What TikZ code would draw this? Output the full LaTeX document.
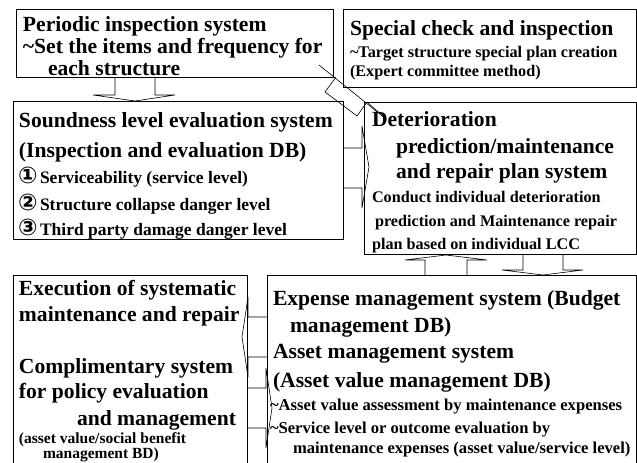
\documentclass[tikz,border=0pt]{standalone}
\usepackage{fontspec}
\setmainfont{Liberation Serif}
\newfontfamily\circfont{DejaVu Sans}
\newcommand\fA{\fontsize{21.6}{24}\selectfont\bfseries}
\newcommand\fB{\fontsize{16.2}{18}\selectfont\bfseries}
\newcommand\fC{\fontsize{17.5}{19}\selectfont\bfseries}
\newcommand\fD{\fontsize{15.5}{17}\selectfont\bfseries}
\newcommand\fE{\fontsize{16.6}{18}\selectfont\bfseries}
\newcommand\circd[1]{\makebox[21pt][l]{\circfont\fontsize{23}{23}\selectfont\kern-1pt #1}}
\tikzset{
  box/.style={draw=black, line width=0.9pt, inner sep=0pt, outer sep=0pt, anchor=north west},
  blk/.style={draw=black, line width=0.6pt, line join=miter},
  txt/.style={anchor=base west, inner sep=0pt, outer sep=0pt},
}
\begin{document}
\begin{tikzpicture}[x=1pt,y=-1pt]
\useasboundingbox (0,0) rectangle (637,463);
\clip (0,0) rectangle (637,463);
% boxes
\node[box, minimum width=317pt, minimum height=68pt] (periodic) at (16,9) {};
\node[box, minimum width=293pt, minimum height=78pt] (special) at (343,9) {};
\node[box, minimum width=330pt, minimum height=138pt] (sound) at (13,101) {};
\node[box, minimum width=272pt, minimum height=152pt] (deter) at (364,102) {};
\node[box, minimum width=234pt, minimum height=195pt] (exec) at (13,275) {};
\node[box, minimum width=369pt, minimum height=195pt] (expense) at (267,275) {};
% periodic text
\node[txt] (p1) at (23,31) {\fA Periodic inspection system};
\node[txt] (p2) at (23,53) {\fA \textasciitilde Set the items and frequency for};
\node[txt] (p3) at (48,75) {\fA each structure};
% special text
\node[txt] (s1) at (350,35) {\fA Special check and inspection};
\node[txt] (s2) at (350,57) {\fB \textasciitilde Target structure special plan creation};
\node[txt] (s3) at (350,76) {\fB (Expert committee method)};
% soundness text
\node[txt] (d1) at (19,127) {\fA Soundness level evaluation system};
\node[txt] (d2) at (19,157) {\fA (Inspection and evaluation DB)};
\node[txt] (d3) at (19,183) {\fC\circd{①}Serviceability (service level)};
\node[txt] (d4) at (19,210) {\fC\circd{②}Structure collapse danger level};
\node[txt] (d5) at (19,235) {\fC\circd{③}Third party damage danger level};
% deterioration text
\node[txt] (t1) at (372,126) {\fA Deterioration};
\node[txt] (t2) at (396,153) {\fA prediction/maintenance};
\node[txt] (t3) at (396,178) {\fA and repair plan system};
\node[txt] (t4) at (372,202) {\fB Conduct individual deterioration};
\node[txt] (t5) at (375,226) {\fB prediction and Maintenance repair};
\node[txt] (t6) at (372,249) {\fB plan based on individual LCC};
% execution text
\node[txt] (e1) at (19,295) {\fA Execution of systematic};
\node[txt] (e2) at (19,321) {\fA maintenance and repair};
\node[txt] (e3) at (19,373) {\fA Complimentary system};
\node[txt] (e4) at (19,398) {\fA for policy evaluation};
\node[txt] (e5) at (77,425) {\fA and management};
\node[txt] (e6) at (19,443) {\fD (asset value/social benefit};
\node[txt] (e7) at (43,458) {\fD management BD)};
% expense text
\node[txt] (x1) at (273,305) {\fA Expense management system (Budget};
\node[txt] (x2) at (290,332) {\fA management DB)};
\node[txt] (x3) at (273,358) {\fA Asset management system};
\node[txt] (x4) at (273,387) {\fA (Asset value management DB)};
\node[txt] (x5) at (270,410) {\fE \textasciitilde Asset value assessment by maintenance expenses};
\node[txt] (x6) at (270,433) {\fE \textasciitilde Service level or outcome evaluation by};
\node[txt] (x7) at (293,453) {\fE maintenance expenses (asset value/service level)};
% block arrows
\draw[blk] (115,77) -- (115,95) -- (93,95) -- (135,101) -- (175,95) -- (155,95) -- (155,77);
\draw[blk] (343,148) -- (362,148) -- (362,126) -- (369,167) -- (362,208) -- (362,188) -- (343,188);
\draw[blk] (425,275) -- (425,260) -- (405,260) -- (446,255) -- (487,260) -- (467,260) -- (467,275);
\draw[blk] (523,254) -- (523,270) -- (502,270) -- (543,275) -- (583,270) -- (563,270) -- (563,254);
\draw[blk] (267,317) -- (248,317) -- (248,297) -- (242,337) -- (248,377) -- (248,357) -- (267,357);
\draw[blk] (247,388) -- (266,388) -- (266,368) -- (272,408) -- (266,448) -- (266,428) -- (247,428);
% distorted diagonal arrow
\draw[blk] (319,65) -- (386,119);
\draw[blk] (336,77) -- (325,92) -- (357,116) -- (367,102) -- (386,119);
\end{tikzpicture}
\end{document}
